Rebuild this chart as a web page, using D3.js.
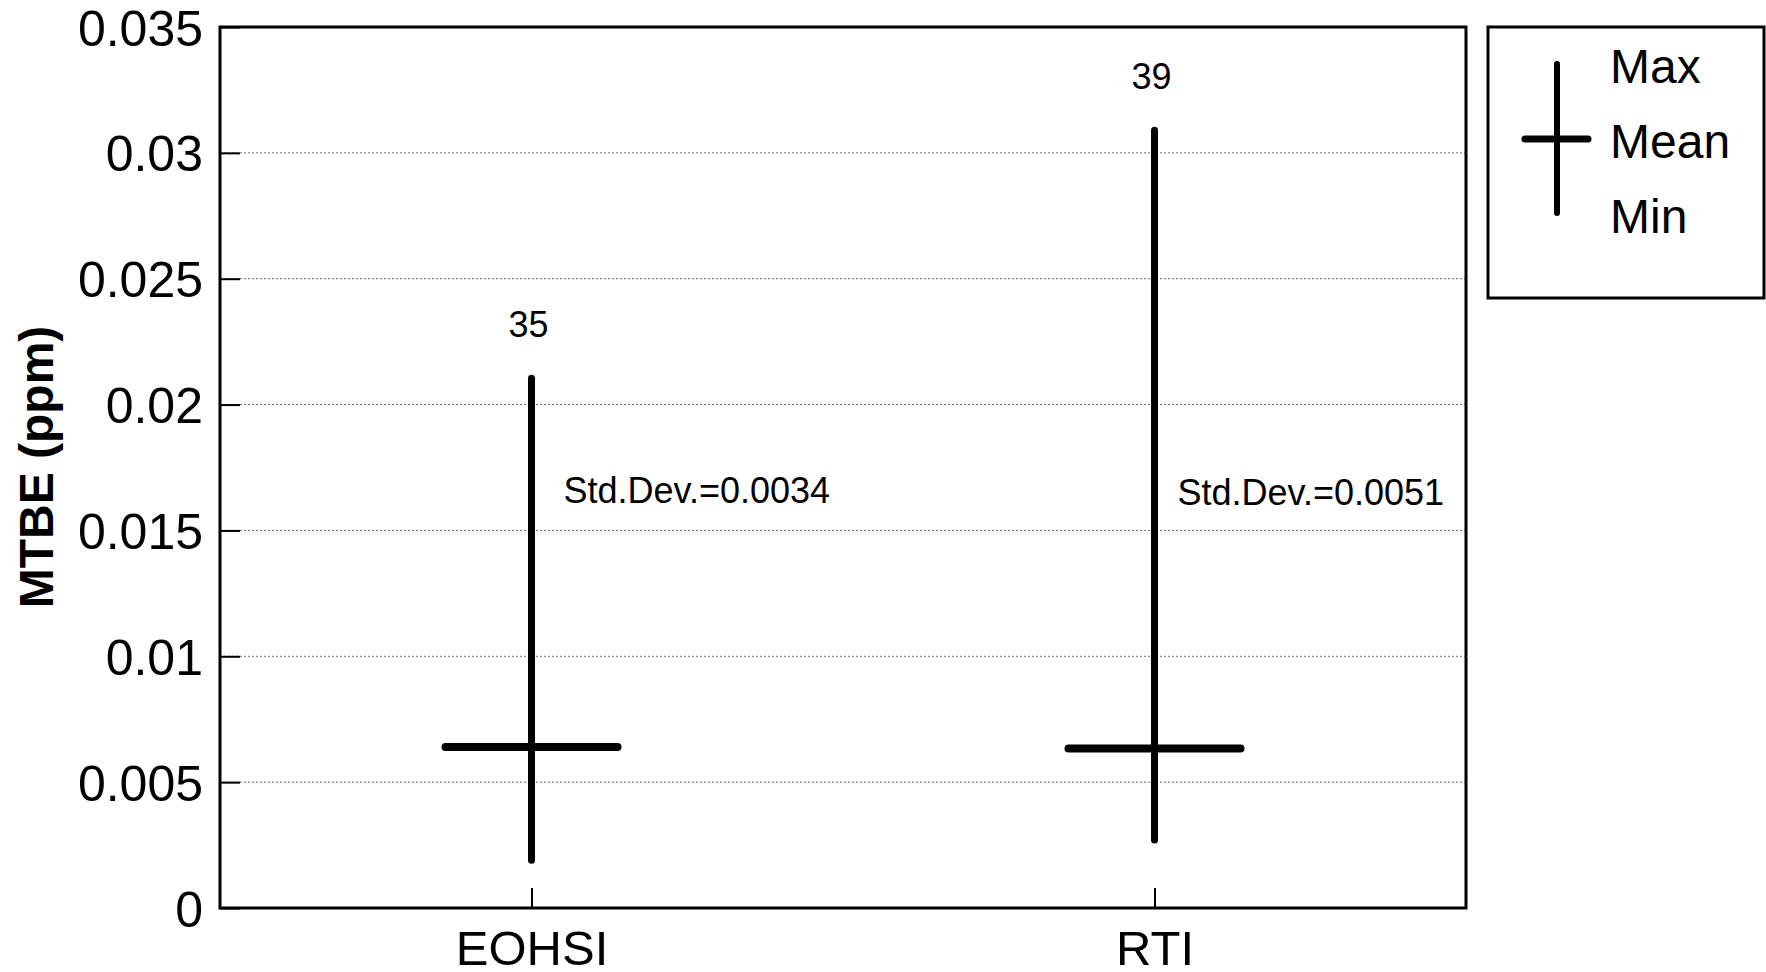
<!DOCTYPE html>
<html>
<head>
<meta charset="utf-8">
<script src="https://cdn.jsdelivr.net/npm/d3@7"></script>
<style>
  body { margin: 0; background: #fff; }
  svg text { font-family: 'Liberation Sans', Arial, sans-serif; fill: #000; }
</style>
</head>
<body>
<div id="chart"></div>
<script>
// data
const sites = ['EOHSI', 'RTI'];
const maxVals = [0.02105, 0.0309];
const meanVals = [0.0064, 0.00634];
const minVals = [0.0019, 0.0027];
const counts = ['35', '39'];
const stdDevs = ['Std.Dev.=0.0034', 'Std.Dev.=0.0051'];
const yTicks = [0, 0.005, 0.01, 0.015, 0.02, 0.025, 0.03, 0.035];
const yTickLabels = ['0', '0.005', '0.01', '0.015', '0.02', '0.025', '0.03', '0.035'];
const legendLabels = ['Max', 'Mean', 'Min'];

const width = 1766;
const height = 972;
const plot = { left: 220, right: 1466, top: 27, bottom: 908 };

const svg = d3.select('#chart').append('svg')
  .attr('width', width)
  .attr('height', height);

const x = d3.scalePoint()
  .domain(sites)
  .range([plot.left, plot.right])
  .padding(0.5);

const y = d3.scaleLinear()
  .domain([0, 0.035])
  .range([plot.bottom, plot.top]);

// gridlines (dotted)
svg.append('g')
  .selectAll('line')
  .data(yTicks.filter((d) => d > 0 && d < 0.035))
  .enter()
  .append('line')
  .attr('x1', plot.left)
  .attr('x2', plot.right)
  .attr('y1', (d) => y(d))
  .attr('y2', (d) => y(d))
  .attr('stroke', '#666')
  .attr('stroke-width', 1)
  .attr('stroke-dasharray', '2,2');

// y axis: inner ticks, labels on the left
const yAxis = d3.axisLeft(y)
  .tickValues(yTicks)
  .tickFormat((d, i) => yTickLabels[i])
  .tickSize(-20)
  .tickPadding(17);

const gy = svg.append('g')
  .attr('transform', `translate(${plot.left},0)`)
  .call(yAxis);
gy.select('.domain').remove();
gy.selectAll('.tick line').attr('stroke', '#000').attr('stroke-width', 2);
gy.selectAll('.tick text')
  .style('font-size', '50px')
  .attr('dy', '0.36em');

// x axis: inner ticks
const xAxis = d3.axisBottom(x)
  .tickSize(-20)
  .tickPadding(22);

const gx = svg.append('g')
  .attr('transform', `translate(0,${plot.bottom})`)
  .call(xAxis);
gx.select('.domain').remove();
gx.selectAll('.tick line').attr('stroke', '#000').attr('stroke-width', 2);
gx.selectAll('.tick text')
  .style('font-size', '49px')
  .attr('dy', '0.71em');

// frame
svg.append('rect')
  .attr('x', plot.left)
  .attr('y', plot.top)
  .attr('width', plot.right - plot.left)
  .attr('height', plot.bottom - plot.top)
  .attr('fill', 'none')
  .attr('stroke', '#000')
  .attr('stroke-width', 3);

// y axis title
svg.append('text')
  .attr('transform', 'rotate(-90)')
  .attr('x', -467)
  .attr('y', 53)
  .attr('text-anchor', 'middle')
  .style('font-size', '48px')
  .style('font-weight', 'bold')
  .text('MTBE (ppm)');

/* ------------------------
  RANGE MARKS
-------------------------*/
const meanHalf = 86;
const marks = svg.append('g');

marks.selectAll('line.range')
  .data(sites)
  .enter()
  .append('line')
  .attr('class', 'range')
  .attr('x1', (d) => x(d))
  .attr('x2', (d) => x(d))
  .attr('y1', (d, i) => y(maxVals[i]))
  .attr('y2', (d, i) => y(minVals[i]))
  .attr('stroke', '#000')
  .attr('stroke-width', 7)
  .attr('stroke-linecap', 'round');

marks.selectAll('line.mean')
  .data(sites)
  .enter()
  .append('line')
  .attr('class', 'mean')
  .attr('x1', (d) => x(d) - meanHalf)
  .attr('x2', (d) => x(d) + meanHalf)
  .attr('y1', (d, i) => y(meanVals[i]))
  .attr('y2', (d, i) => y(meanVals[i]))
  .attr('stroke', '#000')
  .attr('stroke-width', 8)
  .attr('stroke-linecap', 'round');

marks.selectAll('text.count')
  .data(sites)
  .enter()
  .append('text')
  .attr('class', 'count')
  .attr('x', (d) => x(d) - 3)
  .attr('y', (d, i) => y(maxVals[i]) - 41)
  .attr('text-anchor', 'middle')
  .style('font-size', '36px')
  .text((d, i) => counts[i]);

marks.selectAll('text.sd')
  .data(sites)
  .enter()
  .append('text')
  .attr('class', 'sd')
  .attr('x', (d, i) => x(d) + (i === 0 ? 32 : 23))
  .attr('y', (d, i) => (i === 0 ? 503 : 505))
  .style('font-size', '36px')
  .text((d, i) => stdDevs[i]);

/* ------------------------
  LEGEND
-------------------------*/
const legend = svg.append('g').attr('id', 'legend');

legend.append('rect')
  .attr('x', 1488)
  .attr('y', 27)
  .attr('width', 276)
  .attr('height', 271)
  .attr('fill', 'none')
  .attr('stroke', '#000')
  .attr('stroke-width', 3);

legend.append('line')
  .attr('x1', 1557).attr('x2', 1557)
  .attr('y1', 64).attr('y2', 213)
  .attr('stroke', '#000')
  .attr('stroke-width', 6)
  .attr('stroke-linecap', 'round');

legend.append('line')
  .attr('x1', 1525).attr('x2', 1588)
  .attr('y1', 139).attr('y2', 139)
  .attr('stroke', '#000')
  .attr('stroke-width', 7)
  .attr('stroke-linecap', 'round');

legend.selectAll('text')
  .data(legendLabels)
  .enter()
  .append('text')
  .attr('x', 1610)
  .attr('y', (d, i) => 83 + i * 75)
  .style('font-size', '48px')
  .text((d) => d);
</script>
</body>
</html>
